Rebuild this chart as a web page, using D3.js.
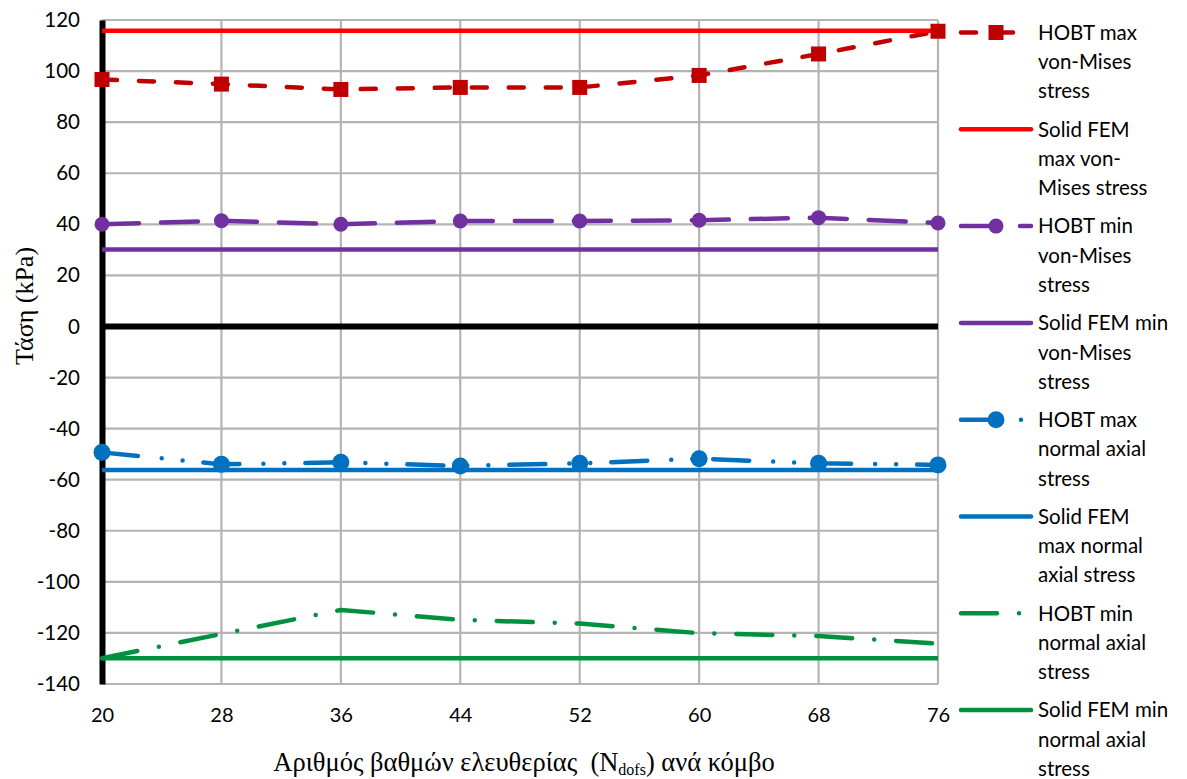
<!DOCTYPE html>
<html>
<head>
<meta charset="utf-8">
<script src="https://cdn.jsdelivr.net/npm/d3@7/dist/d3.min.js"></script>
<style>
  html, body { margin: 0; padding: 0; background: #fff; }
  svg { display: block; }
</style>
</head>
<body>
<svg id="chart" width="1187" height="779"></svg>
<script>
// Degrees of freedom per node (x categories)
const nDofs = [20, 28, 36, 44, 52, 60, 68, 76];

// Stress values in kPa
const hobtMaxVM   = [96.7, 94.9, 92.8, 93.6, 93.6, 98.3, 106.7, 115.6];
const solidMaxVM  = [115.8, 115.8, 115.8, 115.8, 115.8, 115.8, 115.8, 115.8];
const hobtMinVM   = [40.0, 41.4, 40.0, 41.3, 41.3, 41.6, 42.6, 40.5];
const solidMinVM  = [30.1, 30.1, 30.1, 30.1, 30.1, 30.1, 30.1, 30.1];
const hobtMaxNA   = [-49.3, -54.0, -53.2, -54.6, -53.6, -51.8, -53.6, -54.2];
const solidMaxNA  = [-56.2, -56.2, -56.2, -56.2, -56.2, -56.2, -56.2, -56.2];
const hobtMinNA   = [-129.9, -120.4, -111.0, -114.9, -116.3, -120.1, -121.2, -124.2];
const solidMinNA  = [-129.9, -129.9, -129.9, -129.9, -129.9, -129.9, -129.9, -129.9];

const yTicks = [120, 100, 80, 60, 40, 20, 0, -20, -40, -60, -80, -100, -120, -140];
const xTicks = nDofs;

const legendLabels = [
  ["HOBT max", "von-Mises", "stress"],
  ["Solid FEM", "max von-", "Mises stress"],
  ["HOBT min", "von-Mises", "stress"],
  ["Solid FEM min", "von-Mises", "stress"],
  ["HOBT max", "normal axial", "stress"],
  ["Solid FEM", "max normal", "axial stress"],
  ["HOBT min", "normal axial", "stress"],
  ["Solid FEM min", "normal axial", "stress"]
];

const xTitle = "Αριθμός βαθμών ελευθερίας\u00A0\u00A0(N";
const xTitleSub = "dofs";
const xTitleEnd = ") ανά κόμβο";
const yTitle = "Τάση (kPa)";

// Series styling
const series = [
  { values: hobtMaxVM,  color: "#C00000", dash: "15,22", marker: "square", size: 15 },
  { values: solidMaxVM, color: "#FF0000", dash: null,    marker: null },
  { values: hobtMinVM,  color: "#7030A0", dash: "37,22", marker: "circle", size: 15 },
  { values: solidMinVM, color: "#7030A0", dash: null,    marker: null },
  { values: hobtMaxNA,  color: "#0070C0", dash: "36,24,0,21,0,21", marker: "circle", size: 17 },
  { values: solidMaxNA, color: "#0070C0", dash: null,    marker: null },
  { values: hobtMinNA,  color: "#00913F", dash: "36,22,0,22", marker: null },
  { values: solidMinNA, color: "#00913F", dash: null,    marker: null }
];
series.forEach((s, i) => s.label = legendLabels[i]);

const svg = d3.select("#chart");
const tickFont = "Lato, 'Open Sans', sans-serif";
const titleFont = "'Liberation Serif', 'Times New Roman', serif";

const x = d3.scaleLinear().domain([20, 76]).range([102, 938]);
const y = d3.scaleLinear().domain([-140, 120]).range([684, 20]);

// Gridlines
const grid = svg.append("g");
grid.selectAll("line.h").data(yTicks).join("line")
  .attr("x1", x(20)).attr("x2", x(76))
  .attr("y1", d => y(d)).attr("y2", d => y(d))
  .attr("stroke", "#B4B4B4").attr("stroke-width", 2.2);
grid.selectAll("line.v").data(xTicks).join("line")
  .attr("x1", d => x(d)).attr("x2", d => x(d))
  .attr("y1", y(120)).attr("y2", y(-140))
  .attr("stroke", "#B4B4B4").attr("stroke-width", 2.2);

// Y axis with tick labels on the left
const yAxis = d3.axisLeft(y).tickValues(yTicks).tickSize(0).tickPadding(22)
  .tickFormat(d => String(d));
const gy = svg.append("g").attr("transform", `translate(${x(20)},0)`).call(yAxis);
gy.select(".domain").attr("stroke", "#000").attr("stroke-width", 6);
gy.selectAll("text").attr("font-family", tickFont).attr("font-size", 20.5).attr("fill", "#000");

// Horizontal axis line at zero
svg.append("line")
  .attr("x1", x(20)).attr("x2", x(76))
  .attr("y1", y(0)).attr("y2", y(0))
  .attr("stroke", "#000").attr("stroke-width", 6);

// X tick labels placed below the plot area
const xAxis = d3.axisBottom(x).tickValues(xTicks).tickSize(0).tickPadding(24)
  .tickFormat(d => String(d));
const gx = svg.append("g").attr("transform", `translate(0,${y(-140)})`).call(xAxis);
gx.select(".domain").remove();
gx.selectAll("text").attr("font-family", tickFont).attr("font-size", 20).attr("fill", "#000");

// Series lines
const line = d3.line().x((d, i) => x(nDofs[i])).y(d => y(d));
const linesG = svg.append("g");
series.forEach(s => {
  linesG.append("path")
    .attr("d", line(s.values))
    .attr("fill", "none")
    .attr("stroke", s.color)
    .attr("stroke-width", 4.5)
    .attr("stroke-linecap", s.dash ? "round" : "butt")
    .attr("stroke-linejoin", "round")
    .attr("stroke-dasharray", s.dash);
});

// Markers
function drawMarker(g, s, cx, cy) {
  if (s.marker === "square") {
    g.append("rect")
      .attr("x", cx - s.size / 2).attr("y", cy - s.size / 2)
      .attr("width", s.size).attr("height", s.size)
      .attr("fill", s.color);
  } else if (s.marker === "circle") {
    g.append("circle").attr("cx", cx).attr("cy", cy).attr("r", s.size / 2)
      .attr("fill", s.color);
  }
}
const markG = svg.append("g");
series.filter(s => s.marker).forEach(s => {
  s.values.forEach((v, i) => drawMarker(markG, s, x(nDofs[i]), y(v)));
});

// Legend
const legend = svg.append("g");
const legX0 = 961, legX1 = 1031, legTextX = 1038;
series.forEach((s, i) => {
  const ly = 32.5 + i * 96.8;
  legend.append("line")
    .attr("x1", legX0).attr("x2", legX1).attr("y1", ly).attr("y2", ly)
    .attr("stroke", s.color).attr("stroke-width", 4.5)
    .attr("stroke-linecap", "round")
    .attr("stroke-dasharray", s.dash);
  if (s.marker) drawMarker(legend, s, 996, ly);
  s.label.forEach((t, j) => {
    legend.append("text")
      .attr("x", legTextX).attr("y", ly + j * 29.3)
      .attr("dy", "0.36em")
      .attr("font-family", tickFont).attr("font-size", 20.5)
      .attr("fill", "#000")
      .text(t);
  });
});

// Axis titles
const xt = svg.append("text")
  .attr("x", 524).attr("y", 771)
  .attr("text-anchor", "middle")
  .attr("font-family", titleFont).attr("font-size", 26.5)
  .attr("fill", "#000");
xt.append("tspan").text(xTitle);
xt.append("tspan").attr("font-size", 16).attr("dy", 4).text(xTitleSub);
xt.append("tspan").attr("dy", -4).text(xTitleEnd);

svg.append("text")
  .attr("transform", "translate(33,306) rotate(-90)")
  .attr("text-anchor", "middle")
  .attr("font-family", titleFont).attr("font-size", 26)
  .attr("fill", "#000")
  .text(yTitle);
</script>
</body>
</html>
